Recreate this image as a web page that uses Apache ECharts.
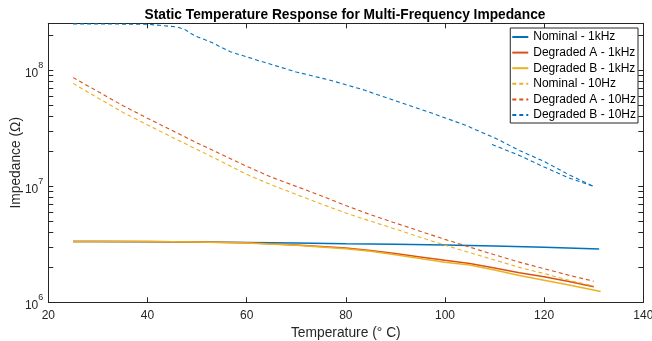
<!DOCTYPE html>
<html>
<head>
<meta charset="utf-8">
<script src="https://cdn.jsdelivr.net/npm/echarts@6/dist/echarts.min.js"></script>
<style>
  html, body { margin: 0; padding: 0; background: #fff; }
  #chart { width: 652px; height: 341px; }
</style>
</head>
<body>
<div id="chart"></div>
<script>
// temperatures (°C) and impedance (Ω)
const tempsNominal1k = [25, 30, 40, 50, 60, 70, 80, 90, 100, 110, 120, 131.1];
const zNominal1k = [3.34e6, 3.34e6, 3.33e6, 3.31e6, 3.28e6, 3.24e6, 3.2e6, 3.17e6, 3.12e6, 3.06e6, 2.98e6, 2.88e6];

const tempsDegA1k = [25, 30, 40, 50, 60, 70, 80, 85, 90, 95, 100, 105, 110, 115, 120, 125, 130];
const zDegA1k = [3.34e6, 3.34e6, 3.34e6, 3.32e6, 3.26e6, 3.12e6, 2.94e6, 2.8e6, 2.63e6, 2.46e6, 2.3e6, 2.16e6, 1.98e6, 1.8e6, 1.66e6, 1.51e6, 1.36e6];

const tempsDegB1k = [25, 30, 40, 50, 60, 70, 80, 85, 90, 95, 100, 105, 110, 115, 120, 125, 131.4];
const zDegB1k = [3.35e6, 3.35e6, 3.35e6, 3.31e6, 3.25e6, 3.1e6, 2.9e6, 2.75e6, 2.57e6, 2.39e6, 2.22e6, 2.1e6, 1.9e6, 1.7e6, 1.55e6, 1.41e6, 1.24e6];

const temps10Hz = [25, 30, 35, 40, 45, 50, 55, 60, 65, 70, 75, 80, 85, 90, 95, 100, 105, 110, 115, 120, 125, 130];
const zNominal10 = [7.73e7, 5.79e7, 4.36e7, 3.39e7, 2.65e7, 2.08e7, 1.63e7, 1.27e7, 1.03e7, 8.51e6, 7.06e6, 5.89e6, 5.01e6, 4.28e6, 3.64e6, 3.11e6, 2.68e6, 2.32e6, 2.0e6, 1.77e6, 1.55e6, 1.38e6];
const zDegA10 = [8.67e7, 6.58e7, 4.98e7, 3.87e7, 3.03e7, 2.37e7, 1.88e7, 1.49e7, 1.2e7, 1.0e7, 8.3e6, 6.84e6, 5.69e6, 4.83e6, 4.1e6, 3.49e6, 2.99e6, 2.57e6, 2.22e6, 1.95e6, 1.71e6, 1.52e6];

const tempsDegB10 = [25, 30, 35, 40, 42.5, 46, 47.5, 49.5, 52.5, 56.7, 60, 63.4, 70, 77, 83.6, 90.4, 97, 104, 110.5, 115, 120, 125, 130];
const zDegB10 = [2.52e8, 2.52e8, 2.51e8, 2.5e8, 2.45e8, 2.37e8, 2.26e8, 1.99e8, 1.78e8, 1.45e8, 1.31e8, 1.18e8, 9.7e7, 8.2e7, 6.8e7, 5.4e7, 4.33e7, 3.39e7, 2.56e7, 2.04e7, 1.64e7, 1.26e7, 1.0e7];
// second pass of the same trace at high temperature
const tempsDegB10Return = [109.5, 115, 120, 125, 130];
const zDegB10Return = [2.3e7, 1.85e7, 1.47e7, 1.18e7, 1.0e7];

const xTicks = [20, 40, 60, 80, 100, 120, 140];
const yDecades = [1e6, 1e7, 1e8];
const yMinorTicks = [1e6, 2e6, 3e6, 4e6, 5e6, 6e6, 7e6, 8e6, 9e6,
  1e7, 2e7, 3e7, 4e7, 5e7, 6e7, 7e7, 8e7, 9e7, 1e8, 2e8];

const BLUE = "#0072BD";
const ORANGE = "#D95319";
const YELLOW = "#EDB120";
const AXIS = "#262626";
const FONT = "Liberation Sans, Arial, sans-serif";

const pairs = (xs, ys) => xs.map((x, i) => [x, ys[i]]);

function line(name, xs, ys, color, dashed) {
  return {
    name,
    type: "line",
    data: pairs(xs, ys),
    symbol: "none",
    showSymbol: false,
    lineStyle: {
      color,
      width: dashed ? 1.1 : 1.5,
      type: dashed ? [4, 3] : "solid",
    },
    itemStyle: { color },
  };
}

const chart = echarts.init(document.getElementById("chart"), null, { renderer: "canvas" });

const yAxisBase = {
  type: "log",
  logBase: 10,
  min: 1e6,
  max: 2.55e8,
  axisLine: { show: true, lineStyle: { color: AXIS, width: 1 } },
  axisTick: { show: true, inside: true, length: 5, customValues: yMinorTicks, lineStyle: { color: AXIS } },
  splitLine: { show: false },
  minorTick: { show: false },
};

chart.setOption({
  animation: false,
  backgroundColor: "#fff",
  textStyle: { fontFamily: FONT },
  title: {
    text: "Static Temperature Response for Multi-Frequency Impedance",
    left: 345,
    textAlign: "center",
    top: 8,
    padding: 0,
    textStyle: { fontFamily: FONT, fontSize: 13.75, fontWeight: "bold", color: "#000" },
  },
  grid: { left: 48.3, right: 8.7, top: 23.3, bottom: 38.7, containLabel: false, outerBoundsMode: "none" },
  legend: {
    orient: "vertical",
    right: 14,
    top: 28,
    padding: [3, 2, 2, 1],
    itemWidth: 16,
    itemHeight: 14,
    itemGap: 3.6,
    backgroundColor: "#fff",
    borderColor: AXIS,
    borderWidth: 1,
    itemStyle: { opacity: 0 },
    textStyle: { fontFamily: FONT, fontSize: 12, color: "#000" },
    data: ["Nominal - 1kHz", "Degraded A - 1kHz", "Degraded B - 1kHz",
      "Nominal - 10Hz", "Degraded A - 10Hz", "Degraded B - 10Hz"],
  },
  xAxis: [
    {
      type: "value",
      min: 20,
      max: 140,
      interval: 20,
      name: "Temperature (° C)",
      nameLocation: "middle",
      nameGap: 21,
      nameTextStyle: { fontFamily: FONT, fontSize: 13.8, color: AXIS },
      axisLine: { show: true, onZero: false, lineStyle: { color: AXIS, width: 1 } },
      axisTick: { show: true, inside: true, length: 5, customValues: xTicks, lineStyle: { color: AXIS } },
      axisLabel: { customValues: xTicks, margin: 7, fontFamily: FONT, fontSize: 12, color: AXIS },
      splitLine: { show: false },
    },
    {
      type: "value",
      position: "top",
      min: 20,
      max: 140,
      interval: 20,
      axisLine: { show: true, onZero: false, lineStyle: { color: AXIS, width: 1 } },
      axisTick: { show: true, inside: true, length: 5, customValues: xTicks, lineStyle: { color: AXIS } },
      axisLabel: { show: false },
      splitLine: { show: false },
    },
  ],
  yAxis: [
    Object.assign({}, yAxisBase, {
      position: "left",
      name: "Impedance (Ω)",
      nameLocation: "middle",
      nameGap: 25,
      nameMoveOverlap: false,
      nameTextStyle: { fontFamily: FONT, fontSize: 13.8, color: AXIS },
      axisLabel: {
        customValues: yDecades,
        margin: 5,
        color: AXIS,
        formatter: (v) => "{b|10}{s|" + Math.round(Math.log10(v)) + "}",
        rich: {
          b: { fontFamily: FONT, fontSize: 12, color: AXIS, lineHeight: 18, verticalAlign: "bottom", padding: [4, 0, 0, 0] },
          s: { fontFamily: FONT, fontSize: 9, color: AXIS, lineHeight: 18, verticalAlign: "top", padding: [0, 0, 6, 0] },
        },
      },
    }),
    Object.assign({}, yAxisBase, {
      position: "right",
      axisLabel: { show: false },
    }),
  ],
  series: [
    line("Nominal - 1kHz", tempsNominal1k, zNominal1k, BLUE, false),
    line("Degraded A - 1kHz", tempsDegA1k, zDegA1k, ORANGE, false),
    line("Degraded B - 1kHz", tempsDegB1k, zDegB1k, YELLOW, false),
    line("Nominal - 10Hz", temps10Hz, zNominal10, YELLOW, true),
    line("Degraded A - 10Hz", temps10Hz, zDegA10, ORANGE, true),
    line("Degraded B - 10Hz", tempsDegB10, zDegB10, BLUE, true),
    line("Degraded B - 10Hz", tempsDegB10Return, zDegB10Return, BLUE, true),
  ],
});
</script>
</body>
</html>
